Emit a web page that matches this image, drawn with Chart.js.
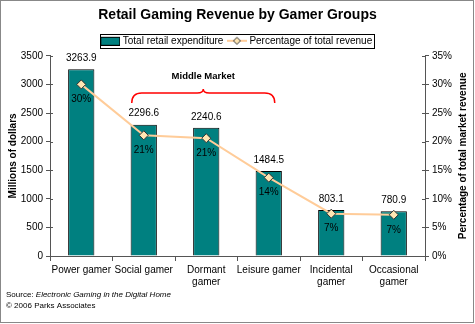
<!DOCTYPE html>
<html><head><meta charset="utf-8">
<script src="https://cdn.jsdelivr.net/npm/chart.js@4/dist/chart.umd.min.js"></script>
<style>html,body{margin:0;padding:0;background:#fff}#wrap{width:475px;height:324px;position:relative}</style>
</head><body><div id="wrap"><canvas id="c" width="475" height="324"></canvas></div>
<script>
const categories = [["Power gamer"], ["Social gamer"], ["Dormant", "gamer"], ["Leisure gamer"], ["Incidental", "gamer"], ["Occasional", "gamer"]];
const expenditure = [3263.9, 2296.6, 2240.6, 1484.5, 803.1, 780.9];
const expenditureLabels = ["3263.9", "2296.6", "2240.6", "1484.5", "803.1", "780.9"];
const percentage = [30.0, 21.1, 20.6, 13.7, 7.4, 7.2];
const percentageLabels = ["30%", "21%", "21%", "14%", "7%", "7%"];
const seriesNames = ["Total retail expenditure", "Percentage of total revenue"];
const rightAxisTitle = "Percentage of total market revenue";
const bracketText = "Middle Market";
const sourceLines = ["Source: ", "Electronic Gaming in the Digital Home", "\u00A9 2006 Parks Associates"];

const FONT = "'Liberation Sans', Arial, sans-serif";
const TEAL = '#008080', ORANGE = '#FFCC99', AXIS = '#555';

function swatch(kind) {
  const cv = document.createElement('canvas');
  cv.width = 20; cv.height = 10;
  const g = cv.getContext('2d');
  if (kind === 'bar') {
    g.fillStyle = TEAL; g.fillRect(0.5, 1.5, 19, 8);
    g.strokeStyle = '#000'; g.lineWidth = 1; g.strokeRect(0.5, 1.5, 19, 8);
  } else {
    g.strokeStyle = ORANGE; g.lineWidth = 2;
    g.beginPath(); g.moveTo(0, 5); g.lineTo(20, 5); g.stroke();
    g.beginPath(); g.moveTo(10, 1.5); g.lineTo(13.5, 5); g.lineTo(10, 8.5); g.lineTo(6.5, 5); g.closePath();
    g.fillStyle = '#FFE6B3'; g.fill(); g.strokeStyle = '#333'; g.lineWidth = 1; g.stroke();
  }
  return cv;
}
const swatches = [swatch('bar'), swatch('line')];

const extras = {
  id: 'extras',
  afterDatasetsDraw(chart) {
    const ctx = chart.ctx;
    ctx.save();
    ctx.fillStyle = '#000';
    ctx.font = '10px ' + FONT;
    ctx.textAlign = 'center'; ctx.textBaseline = 'middle';
    chart.getDatasetMeta(0).data.forEach((b, i) => ctx.fillText(expenditureLabels[i], b.x, b.y - 11));
    chart.getDatasetMeta(1).data.forEach((p, i) => ctx.fillText(percentageLabels[i], p.x, p.y + 15));
    // bracket
    const xs = chart.scales.x;
    const x0 = xs.getPixelForValue(1) - 12, x1 = xs.getPixelForValue(3) + 6;
    const xm = (x0 + x1) / 2, yl = 93;
    ctx.strokeStyle = '#FF0000'; ctx.lineWidth = 1.5;
    ctx.beginPath();
    ctx.moveTo(x0, yl + 10);
    ctx.quadraticCurveTo(x0, yl, x0 + 10, yl);
    ctx.lineTo(xm - 6, yl);
    ctx.quadraticCurveTo(xm, yl, xm, yl - 4);
    ctx.quadraticCurveTo(xm, yl, xm + 6, yl);
    ctx.lineTo(x1 - 10, yl);
    ctx.quadraticCurveTo(x1, yl, x1, yl + 10);
    ctx.stroke();
    ctx.fillStyle = '#000';
    ctx.font = 'bold 9.5px ' + FONT;
    ctx.fillText(bracketText, xm, 76);
    // inner tick crosses on y axes
    ctx.strokeStyle = AXIS; ctx.lineWidth = 1;
    const ca = chart.chartArea;
    chart.scales.y.ticks.forEach(t => {
      const y = Math.round(chart.scales.y.getPixelForValue(t.value)) + 0.5;
      ctx.beginPath(); ctx.moveTo(ca.left, y); ctx.lineTo(ca.left + 3, y); ctx.stroke();
    });
    chart.scales.y1.ticks.forEach(t => {
      const y = Math.round(chart.scales.y1.getPixelForValue(t.value)) + 0.5;
      ctx.beginPath(); ctx.moveTo(ca.right, y); ctx.lineTo(ca.right - 3, y); ctx.stroke();
    });
    ctx.restore();
  },
  afterDraw(chart) {
    const ctx = chart.ctx;
    ctx.save();
    // legend frame
    const hb = chart.legend.legendHitBoxes;
    if (hb && hb.length) {
      let l = Infinity, r = -Infinity, t = Infinity, b = -Infinity;
      hb.forEach(h => { l = Math.min(l, h.left); r = Math.max(r, h.left + h.width); t = Math.min(t, h.top); b = Math.max(b, h.top + h.height); });
      ctx.strokeStyle = '#000'; ctx.lineWidth = 1;
      ctx.strokeRect(Math.round(l - 3) + 0.5, Math.round(t - 2) + 0.5, Math.round(r - l + 5), Math.round(b - t + 4));
    }
    // right axis title, reading bottom to top
    const ca = chart.chartArea;
    ctx.fillStyle = '#000';
    ctx.font = 'bold 10px ' + FONT;
    ctx.textAlign = 'center'; ctx.textBaseline = 'middle';
    ctx.translate(463, (ca.top + ca.bottom) / 2);
    ctx.rotate(-Math.PI / 2);
    ctx.fillText(rightAxisTitle, 0, 0);
    ctx.setTransform(1, 0, 0, 1, 0, 0);
    // source text
    ctx.textBaseline = 'middle'; ctx.textAlign = 'left';
    ctx.font = '8px ' + FONT;
    ctx.fillText(sourceLines[0], 6, 295);
    const w = ctx.measureText(sourceLines[0]).width;
    ctx.font = 'italic 8px ' + FONT;
    ctx.fillText(sourceLines[1], 6 + w, 295);
    ctx.font = '8px ' + FONT;
    ctx.fillText(sourceLines[2], 6, 306);
    // outer frame
    ctx.strokeStyle = '#888'; ctx.lineWidth = 1;
    ctx.strokeRect(0.5, 0.5, 473, 322);
    ctx.restore();
  }
};

Chart.defaults.font.family = FONT;
Chart.defaults.color = '#000';

new Chart(document.getElementById('c'), {
  type: 'bar',
  data: {
    labels: categories,
    datasets: [
      { type: 'bar', label: seriesNames[0], data: expenditure, yAxisID: 'y', order: 2,
        backgroundColor: TEAL, borderColor: '#000', borderWidth: 1,
        barPercentage: 0.42, categoryPercentage: 1 },
      { type: 'line', label: seriesNames[1], data: percentage, yAxisID: 'y1', order: 1,
        borderColor: ORANGE, borderWidth: 2, tension: 0,
        pointStyle: 'rectRot', pointRadius: 4.5, pointBackgroundColor: '#FFE6B3',
        pointBorderColor: '#333', pointBorderWidth: 1 }
    ]
  },
  options: {
    responsive: false, animation: false, devicePixelRatio: 1,
    layout: { padding: { left: 0, right: 0, top: 0, bottom: 34 } },
    plugins: {
      tooltip: { enabled: false },
      title: { display: true, text: 'Retail Gaming Revenue by Gamer Groups',
        font: { size: 14, weight: 'bold' }, color: '#000', padding: { top: 7, bottom: 6 } },
      legend: {
        display: true,
        labels: {
          font: { size: 10 }, color: '#000', usePointStyle: true, pointStyleWidth: 15, boxHeight: 10,
          padding: 6,
          generateLabels(chart) {
            return chart.data.datasets.map((ds, i) => ({
              text: ds.label, datasetIndex: i, pointStyle: swatches[i],
              fillStyle: 'transparent', strokeStyle: 'transparent', lineWidth: 0, hidden: false, fontColor: '#000'
            }));
          }
        }
      }
    },
    scales: {
      x: {
        offset: true,
        grid: { display: true, offset: true, drawOnChartArea: false, tickLength: 5, color: AXIS },
        border: { display: true, color: AXIS },
        ticks: { font: { size: 10, lineHeight: 1.2 }, padding: 3, maxRotation: 0, autoSkip: false, color: '#000' },
        afterFit(s) { s.height = 34; }
      },
      y: {
        position: 'left', min: 0, max: 3500,
        grid: { display: true, drawOnChartArea: false, tickLength: 4, color: AXIS },
        border: { display: true, color: AXIS },
        ticks: { stepSize: 500, font: { size: 10 }, padding: 3, color: '#000', callback: v => String(v) },
        title: { display: true, text: 'Millions of dollars', font: { size: 10, weight: 'bold' }, padding: { top: 7, bottom: 0 }, color: '#000' },
        afterFit(s) { s.width = 50; }
      },
      y1: {
        position: 'right', min: 0, max: 35,
        grid: { display: true, drawOnChartArea: false, tickLength: 4, color: AXIS },
        border: { display: true, color: AXIS },
        ticks: { stepSize: 5, font: { size: 10 }, padding: 3, color: '#000', callback: v => v + '%' },
        afterFit(s) { s.width = 50; }
      }
    }
  },
  plugins: [extras]
});
</script>
</body></html>
